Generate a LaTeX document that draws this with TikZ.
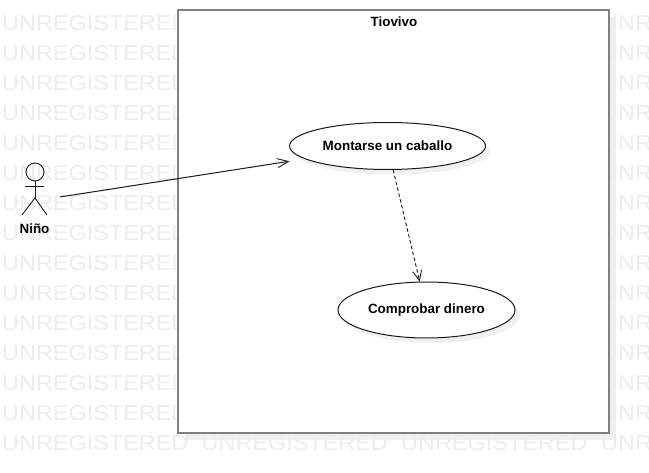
\documentclass[tikz,border=0pt]{standalone}
\usepackage{fontspec}
\setmainfont{Liberation Sans}
\newfontfamily\wmfont[FakeStretch=1.09]{Liberation Sans}
\usetikzlibrary{arrows.meta,shapes.geometric}
\definecolor{wm}{gray}{0.93}
\definecolor{shadowgray}{gray}{0.94}
\definecolor{framegray}{gray}{0.5}
\definecolor{ink}{gray}{0.1}
\tikzset{
  wmtext/.style={anchor=base west,inner sep=0pt,text=wm,font=\wmfont\fontsize{21.5}{24}\selectfont},
  usecase/.style={ellipse,draw=ink,fill=white,line width=1pt,inner sep=0pt,font=\bfseries\fontsize{13.4}{15}\selectfont,text=black},
  caseshadow/.style={ellipse,fill=shadowgray,inner sep=0pt},
  actorline/.style={draw=ink,line width=.9pt},
  assoc/.style={draw=ink,line width=1pt,-{Straight Barb[length=11pt,width=9pt,line width=.9pt]}},
  dep/.style={draw=ink,line width=.9pt,dash pattern=on 3.5pt off 2.5pt,-{Straight Barb[length=10pt,width=9pt,line width=.9pt,sep=0pt]}},
  label/.style={inner sep=0pt,font=\bfseries\fontsize{13.4}{15}\selectfont,text=black}
}
\begin{document}
\begin{tikzpicture}[x=1pt,y=-1pt]
\useasboundingbox (0,0) rectangle (649,473);
\fill[white] (0,0) rectangle (649,473);
% boundary shadow, under the watermark
\fill[shadowgray] (185,17) rectangle (616,440);
% watermark
\foreach \r in {0,...,14}{
  \node[wmtext] (wml\r) at (2,{31+30*\r}) {UNREGISTERED};
  \node[wmtext] (wmr\r) at (601,{31+30*\r}) {UNR};
}
\node[wmtext] (wmb1) at (201.5,451) {UNREGISTERED};
\node[wmtext] (wmb2) at (401,451) {UNREGISTERED};
% boundary
\node[draw=framegray,fill=white,line width=2pt,outer sep=0pt,minimum width=431pt,minimum height=423pt,inner sep=0pt,anchor=north west] (sys) at (178,10) {};
\node[label,anchor=base] (title) at (394,27) {Tiovivo};
% use cases
\node[caseshadow,minimum width=196pt,minimum height=47pt] (ms) at (392,151) {};
\node[caseshadow,minimum width=177pt,minimum height=56pt] (cs) at (431.5,315) {};
\node[usecase,minimum width=196pt,minimum height=47pt] (m) at (387.5,146) {Montarse un caballo};
\node[usecase,minimum width=177pt,minimum height=56pt] (c) at (426.5,310) {Comprobar dinero};
\node[rectangle,minimum width=196pt,minimum height=47pt,inner sep=0pt,outer sep=0pt] (mbox) at (m) {};
% actor
\node[circle,actorline,minimum size=18pt,inner sep=0pt] (head) at (35,172) {};
\coordinate (hip) at (35,198);
\draw[actorline] (head.south) -- (hip);
\coordinate (armL) at (25,186);
\coordinate (armR) at (44,186);
\coordinate (legL) at (22,215);
\coordinate (legR) at (47,215);
\draw[actorline] (armL) -- (armR);
\draw[actorline] (legL) -- (hip) -- (legR);
\node[label,anchor=base] (nino) at (34.5,233.5) {Niño};
\coordinate (actorhand) at (60,197);
% connectors
\draw[assoc] (actorhand) -- (mbox);
\draw[dep] (m) -- (c);
\end{tikzpicture}
\end{document}
